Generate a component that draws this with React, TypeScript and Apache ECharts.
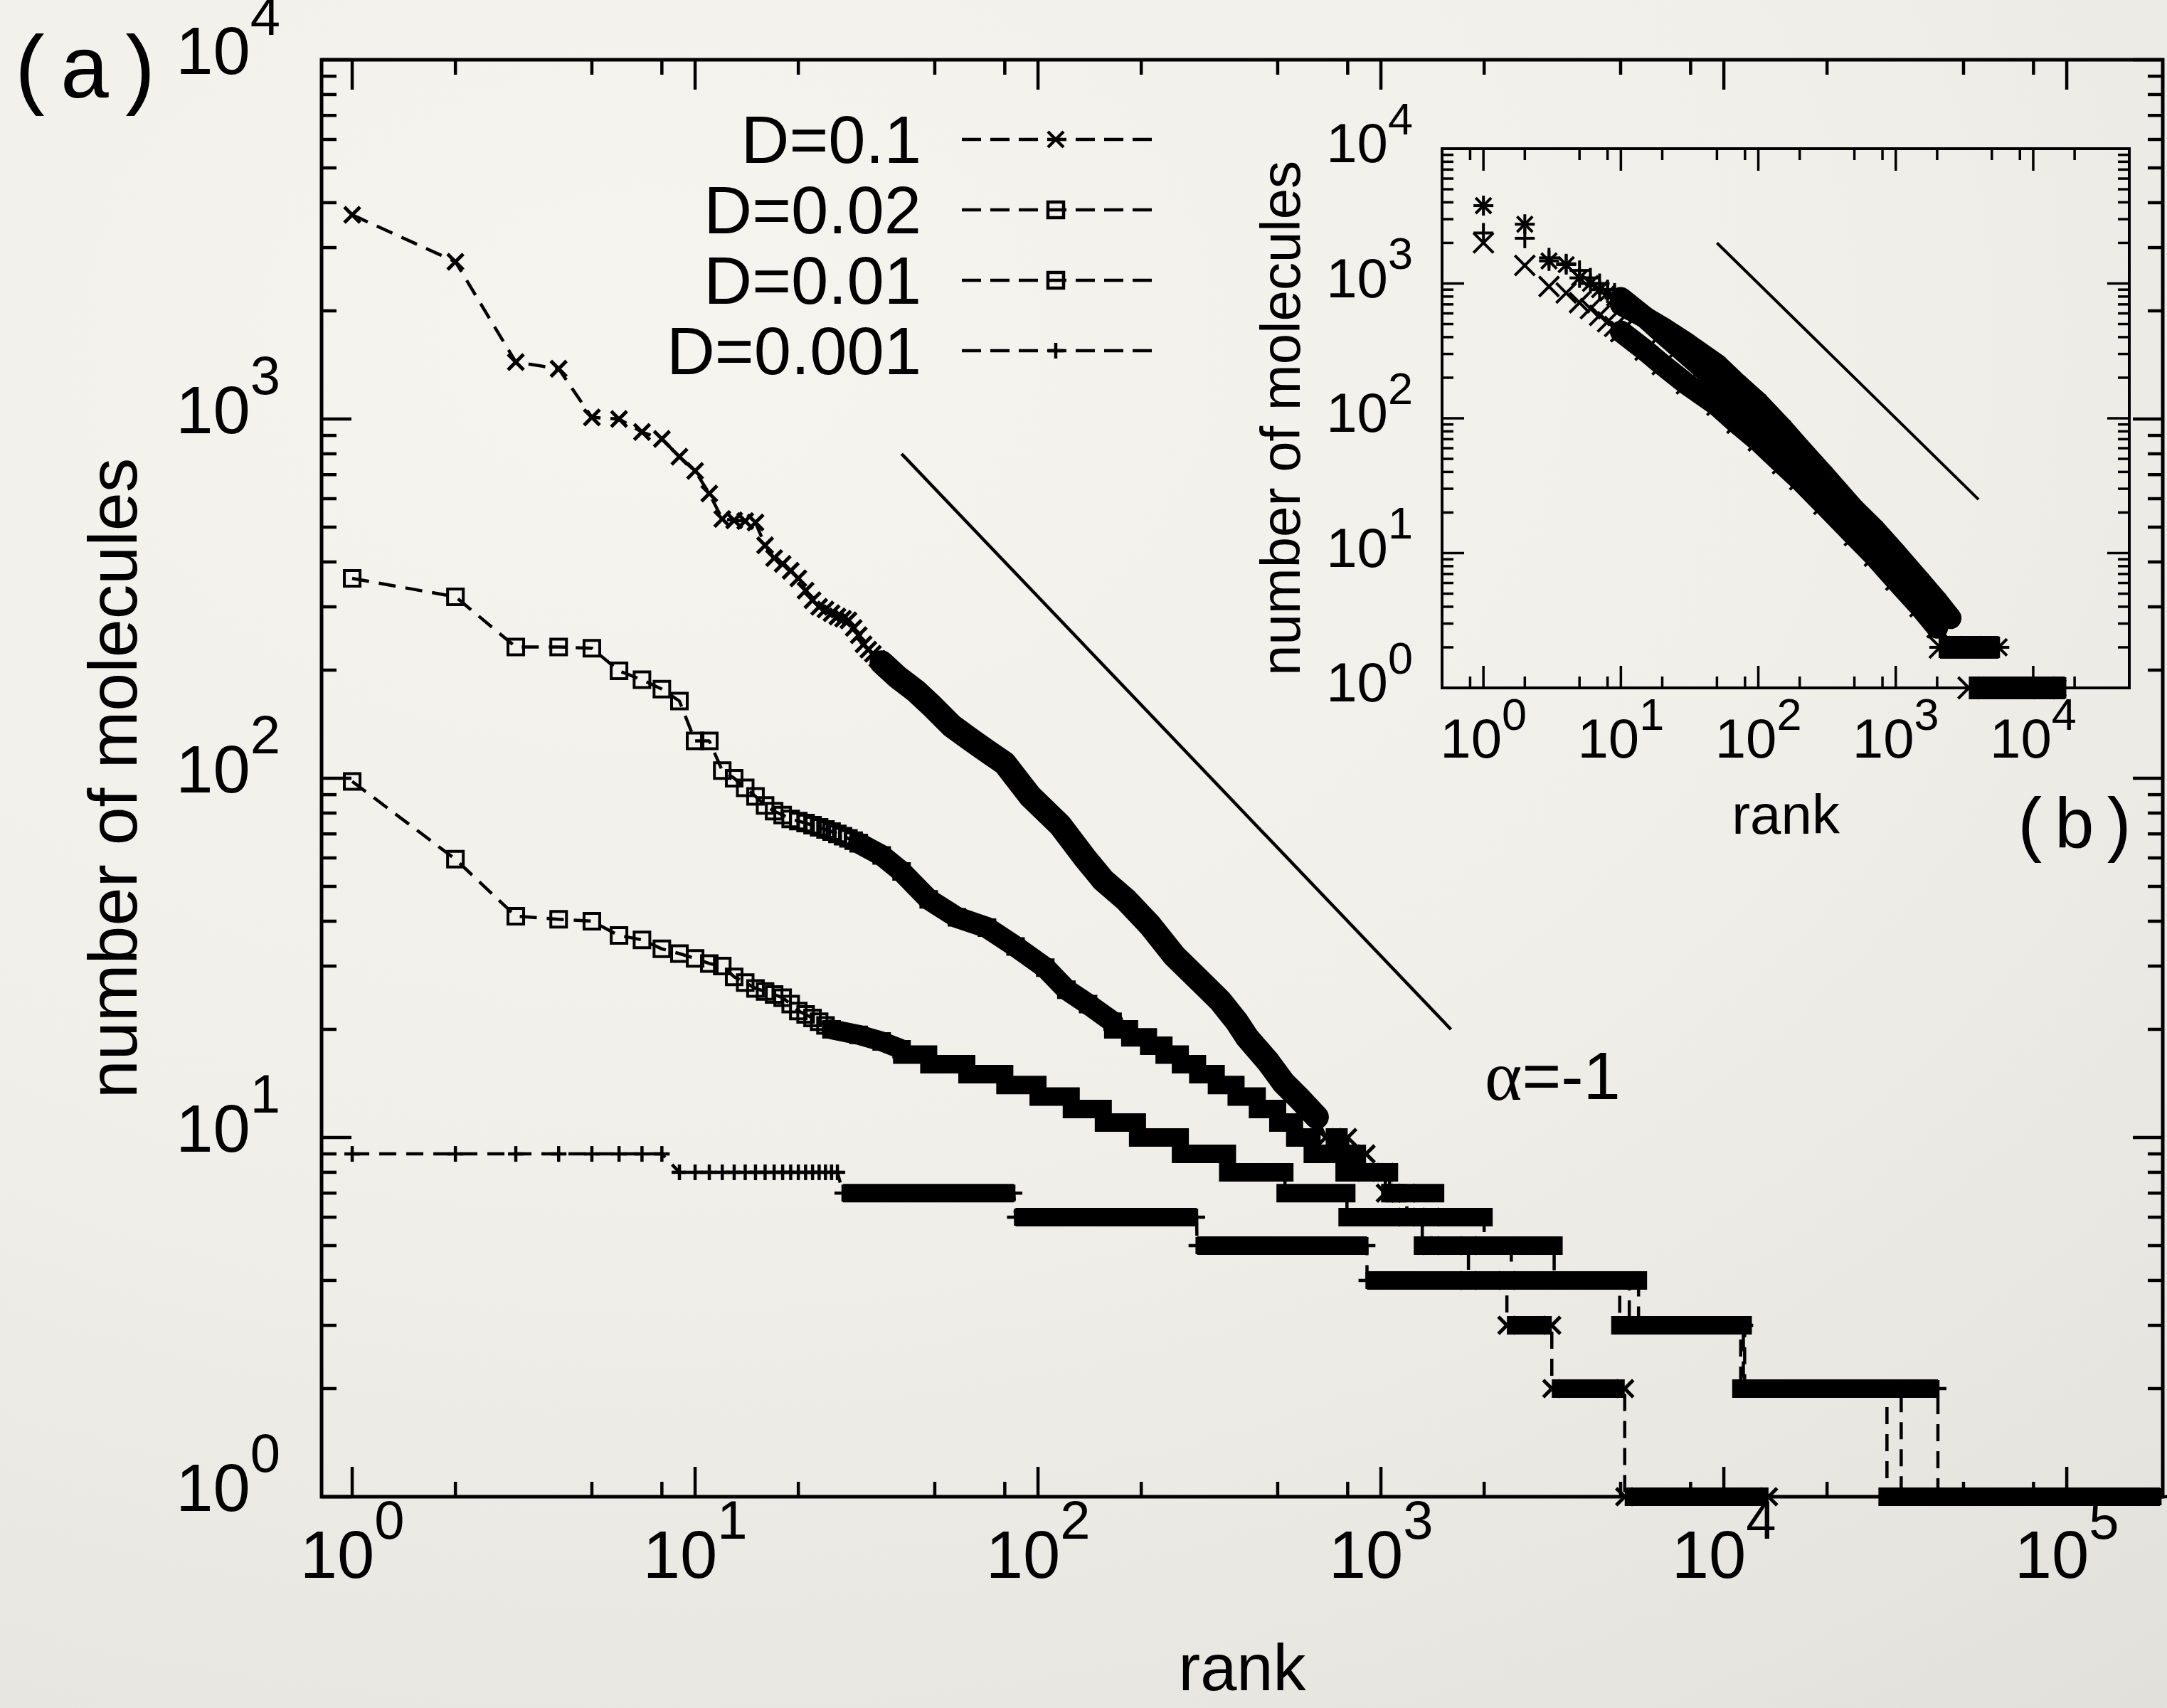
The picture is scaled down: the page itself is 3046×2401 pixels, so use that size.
import React, { useEffect, useRef } from "react";
import * as echarts from "echarts";

const SANS = "'Liberation Sans', Arial, Helvetica, sans-serif";
const MONO = "'Liberation Mono', 'Courier New', monospace";
const SERIF = "'Liberation Serif', 'Times New Roman', serif";

// ---------- axes ----------
const MAIN_X_RANGE = [0.8141, 190500];
const MAIN_Y_RANGE = [1, 10000];
const INSET_X_RANGE = [0.5, 50000];
const INSET_Y_RANGE = [1, 10000];

const mainXMajor = [1, 10, 100, 1000, 10000, 100000];
const mainXMinor = [2, 5, 8, 20, 50, 80, 200, 500, 800, 2000, 5000, 8000, 20000, 50000, 80000];
const mainYMajor = [1, 10, 100, 1000, 10000];
const mainYMinor = [2, 3, 4, 5, 6, 7, 8, 9, 20, 30, 40, 50, 60, 70, 80, 90, 200, 300, 400, 500, 600, 700, 800, 900, 2000, 3000, 4000, 5000, 6000, 7000, 8000, 9000];
const mainXExp = ["0", "1", "2", "3", "4", "5"];
const mainYExp = ["0", "1", "2", "3", "4"];

const insetXMajor = [1, 10, 100, 1000, 10000];
const insetXMinor = [0.8, 2, 5, 8, 20, 50, 80, 200, 500, 800, 2000, 5000, 8000, 20000];
const insetYMajor = [1, 10, 100, 1000, 10000];
const insetYMinor = [2, 3, 4, 5, 6, 7, 8, 9, 20, 30, 40, 50, 60, 70, 80, 90, 200, 300, 400, 500, 600, 700, 800, 900, 2000, 3000, 4000, 5000, 6000, 7000, 8000, 9000];
const insetXExp = ["0", "1", "2", "3", "4"];
const insetYExp = ["0", "1", "2", "3", "4"];

// ---------- main data : [rank, molecules] ; steps : [molecules, fromRank, toRank] ----------
const legendNames = ["D=0.1", "D=0.02", "D=0.01", "D=0.001"];

const d01Head = [[1, 3700], [2, 2740], [3, 1440], [4, 1380], [5, 1010], [6, 1000], [7, 920], [8, 880], [9, 785], [10, 717], [11, 620], [12, 527], [13, 522], [14, 520], [15, 515], [16, 445], [17, 410], [18, 395], [19, 378], [20, 360], [21, 333], [22, 313], [23, 300], [24, 295], [25, 288], [26, 282], [27, 278], [28, 275], [29, 262], [30, 250], [31, 236], [32, 228], [33, 222], [34, 215], [35, 210]];
const d01Band = [[35, 210], [39, 191], [44, 175], [49, 159], [56, 140], [63, 129], [71, 119], [80, 110], [95, 89], [116, 74], [137, 60], [155, 52], [180, 46], [212, 39], [250, 32], [300, 27], [340, 24], [380, 21], [407, 19], [470, 16.2], [520, 14.2], [580, 12.8], [650, 11.4]];
const d01Steps = [[10, 690, 800], [9, 800, 905], [8, 905, 1030], [7, 1030, 1190], [6, 1190, 1400], [5, 1400, 1800], [4, 1800, 2330], [3, 2330, 3150], [2, 3150, 5140], [1, 5140, 13500]];

const d002Head = [[1, 360], [2, 320], [3, 232], [4, 232], [5, 230], [6, 199], [7, 188], [8, 177], [9, 164], [10, 127], [11, 127], [12, 105], [13, 100], [14, 94], [15, 89], [16, 84], [17, 81], [18, 79], [19, 77], [20, 76], [21, 75], [22, 74], [23, 73], [24, 72], [25, 71], [26, 70], [27, 69], [28, 68], [29, 67], [30, 66]];
const d002Band = [[30, 66], [35, 61], [40, 55], [48, 46], [58, 41], [71, 38.4], [86, 34], [105, 29.7], [121, 25.8], [140, 23.5], [165, 21]];
const d002Steps = [[20, 165, 185], [19, 185, 210], [18, 210, 233], [17, 233, 260], [16, 260, 292], [15, 292, 331], [14, 331, 378], [13, 378, 436], [12, 436, 500], [11, 500, 560], [10, 560, 630], [9, 630, 780], [8, 780, 1060], [7, 1060, 1445], [6, 1445, 2000], [5, 2000, 3200], [4, 3200, 4970], [3, 4970, 11400], [2, 11400, 29900], [1, 29900, 140000]];

const d001Head = [[1, 98], [2, 59.5], [3, 41.3], [4, 40.5], [5, 40], [6, 36.5], [7, 35.5], [8, 33.5], [9, 32.5], [10, 31.5], [11, 30.5], [12, 30], [13, 28], [14, 27], [15, 26], [16, 25.5], [17, 25], [18, 24.5], [19, 23.5], [20, 22.5], [21, 22], [22, 21.5], [23, 21], [24, 20.5], [25, 20]];
const d001Band = [[25, 20], [30, 19.3], [35, 18.5], [40, 17.6]];
const d001Steps = [[17, 40, 48], [16, 48, 62], [15, 62, 80], [14, 80, 100], [13, 100, 125], [12, 125, 155], [11, 155, 195], [10, 195, 260], [9, 260, 357], [8, 357, 525], [7, 525, 796], [6, 796, 1320], [5, 1320, 2400], [4, 2400, 5640], [3, 5640, 11200], [2, 11200, 32900], [1, 32900, 140000]];

const d0001Head = [[1, 9], [2, 9], [3, 9], [4, 9], [5, 9], [6, 9], [7, 9], [8, 9], [9, 8], [10, 8], [11, 8], [12, 8], [13, 8], [14, 8], [15, 8], [16, 8], [17, 8], [18, 8], [19, 8], [20, 8], [21, 8], [22, 8], [23, 8], [24, 8], [25, 8], [26, 8]];
const d0001Band: number[][] = [];
const d0001Steps = [[7, 27, 85], [6, 86, 290], [5, 291, 910], [4, 911, 5300], [3, 5300, 11500], [2, 11500, 42100], [1, 42100, 187000]];

const alphaMain = [[40, 800], [1600, 20]];

// ---------- inset data ----------
const insetAHead = [[1, 3780], [2, 2750], [3, 1470], [4, 1380], [5, 1100], [6, 1000], [7, 900], [8, 850], [9, 780], [10, 700]];
const insetABand = [[10, 700], [15, 560], [20, 470], [30, 360], [50, 250], [70, 180], [100, 130], [150, 84], [200, 60], [300, 38], [500, 21], [700, 15], [1000, 10], [1500, 6.2], [2000, 4.4], [2500, 3.3]];
const insetASteps = [[2, 2600, 5600], [1, 5600, 15000]];
const insetBHead = [[1, 2370], [2, 2165], [3, 1550], [4, 1400], [5, 1250], [6, 1100], [7, 1000], [8, 900], [9, 850], [10, 780]];
const insetBBand = [[10, 780], [15, 560], [20, 430], [30, 300], [50, 190], [70, 140], [100, 100], [150, 66], [200, 48], [300, 31], [500, 17], [700, 12], [1000, 8], [1500, 5], [2000, 3.4]];
const insetBSteps = [[2, 2100, 4000], [1, 4000, 17000]];
const insetCHead = [[1, 2000], [2, 1360], [3, 950], [4, 850], [5, 720], [6, 650], [7, 580], [8, 520], [9, 480], [10, 440]];
const insetCBand = [[10, 440], [15, 320], [20, 250], [30, 180], [50, 125], [70, 92], [100, 68], [150, 46], [200, 35], [300, 23], [500, 13.5], [700, 9.5], [1000, 6.3], [1500, 4], [2000, 2.8]];
const insetCSteps = [[2, 2100, 3500], [1, 3400, 12000]];
const alphaInset = [[50, 2000], [4000, 25]];

// ---------- drawing helpers ----------
function markerEls(kind: string, x: number, y: number, h: number, lw: number): any[] {
  const st = { stroke: "#000", lineWidth: lw, fill: "none" };
  const ln = (x1: number, y1: number, x2: number, y2: number) => ({ type: "line", shape: { x1, y1, x2, y2 }, style: st });
  if (kind === "x") return [ln(x - h, y - h, x + h, y + h), ln(x - h, y + h, x + h, y - h)];
  if (kind === "plus") return [ln(x - h, y, x + h, y), ln(x, y - h, x, y + h)];
  if (kind === "square") return [{ type: "rect", shape: { x: x - h, y: y - h, width: 2 * h, height: 2 * h }, style: st }];
  const k = h * 0.78;
  return [ln(x - h, y, x + h, y), ln(x, y - h, x, y + h), ln(x - k, y - k, x + k, y + k), ln(x - k, y + k, x + k, y - k)];
}

function markerRenderer(kind: string, h: number, lw: number) {
  return (params: any, api: any) => {
    const p = api.coord([api.value(0), api.value(1)]);
    return { type: "group", children: markerEls(kind, p[0], p[1], h, lw) };
  };
}

function stepRenderer(kind: string, h: number, lw: number) {
  return (params: any, api: any) => {
    const a = api.coord([api.value(0), api.value(1)]);
    const b = api.coord([api.value(2), api.value(1)]);
    const ext = kind === "square" ? h : 0;
    const children: any[] = [
      { type: "rect", shape: { x: a[0] - ext, y: a[1] - h - 1, width: b[0] - a[0] + 2 * ext, height: 2 * h + 2 }, style: { fill: "#000" } },
    ];
    if (kind !== "square") {
      children.push(...markerEls(kind, a[0], a[1], h, lw), ...markerEls(kind, b[0], b[1], h, lw));
    }
    return { type: "group", children };
  };
}

function tickData(xMaj: number[], xMin: number[], yMaj: number[], yMin: number[], xr: number[], yr: number[], majLen: number, minLen: number) {
  const d: number[][] = [];
  xMaj.forEach((v) => { d.push([v, yr[0], 0, majLen]); d.push([v, yr[1], 1, majLen]); });
  xMin.forEach((v) => { if (v > xr[0] && v < xr[1]) { d.push([v, yr[0], 0, minLen]); d.push([v, yr[1], 1, minLen]); } });
  yMaj.forEach((v) => { d.push([xr[0], v, 2, majLen]); d.push([xr[1], v, 3, majLen]); });
  yMin.forEach((v) => { d.push([xr[0], v, 2, minLen]); d.push([xr[1], v, 3, minLen]); });
  return d;
}

function tickRenderer(w: number) {
  return (params: any, api: any) => {
    const p = api.coord([api.value(0), api.value(1)]);
    const dir = api.value(2);
    const len = api.value(3);
    let x2 = p[0];
    let y2 = p[1];
    if (dir === 0) y2 -= len;
    else if (dir === 1) y2 += len;
    else if (dir === 2) x2 += len;
    else x2 -= len;
    return { type: "line", shape: { x1: p[0], y1: p[1], x2, y2 }, style: { stroke: "#000", lineWidth: w } };
  };
}

function labelRenderer(texts: string[], cfg: any) {
  return (params: any, api: any) => {
    const p = api.coord([api.value(0), api.value(1)]);
    const side = api.value(2);
    const exp = texts[params.dataIndex % texts.length];
    const rich = {
      b: { fontSize: cfg.base, fontFamily: SANS, lineHeight: cfg.base, verticalAlign: "bottom", fill: "#000" },
      s: { fontSize: cfg.sup, fontFamily: SANS, lineHeight: cfg.supLH, padding: [0, 0, cfg.pad, 0], verticalAlign: "bottom", fill: "#000" },
    };
    const bottom = side === 0;
    return {
      type: "text",
      x: bottom ? p[0] : p[0] - cfg.leftGap,
      y: bottom ? p[1] + cfg.bottomTop : p[1] + cfg.leftTop,
      style: {
        text: "{b|10}{s|" + exp + "}",
        rich,
        fill: "#000",
        align: bottom ? "center" : "right",
        textAlign: bottom ? "center" : "right",
        verticalAlign: "top",
        textVerticalAlign: "top",
      },
    };
  };
}

function buildOption() {
  const series: any[] = [];
  const M = { xAxisIndex: 0, yAxisIndex: 0 };
  const I = { xAxisIndex: 1, yAxisIndex: 1 };

  // ticks
  series.push({ type: "custom", ...M, clip: false, silent: true, z: 20, renderItem: tickRenderer(4.5),
    data: tickData(mainXMajor, mainXMinor, mainYMajor, mainYMinor, MAIN_X_RANGE, MAIN_Y_RANGE, 42, 21) });
  series.push({ type: "custom", ...I, clip: false, silent: true, z: 20, renderItem: tickRenderer(3.5),
    data: tickData(insetXMajor, insetXMinor, insetYMajor, insetYMinor, INSET_X_RANGE, INSET_Y_RANGE, 31, 16) });

  // tick labels
  const mainCfg = { base: 94, sup: 76, supLH: 64, pad: 58, bottomTop: 34, leftGap: 58, leftTop: -60 };
  series.push({ type: "custom", ...M, clip: false, silent: true, z: 20, renderItem: labelRenderer(mainXExp, mainCfg),
    data: mainXMajor.map((v) => [v, MAIN_Y_RANGE[0], 0]) });
  series.push({ type: "custom", ...M, clip: false, silent: true, z: 20, renderItem: labelRenderer(mainYExp, mainCfg),
    data: mainYMajor.map((v) => [MAIN_X_RANGE[0], v, 1]) });
  const insetCfg = { base: 78, sup: 63, supLH: 63, pad: 42, bottomTop: 32, leftGap: 41, leftTop: -47 };
  series.push({ type: "custom", ...I, clip: false, silent: true, z: 20, renderItem: labelRenderer(insetXExp, insetCfg),
    data: insetXMajor.map((v) => [v, INSET_Y_RANGE[0], 0]) });
  series.push({ type: "custom", ...I, clip: false, silent: true, z: 20, renderItem: labelRenderer(insetYExp, insetCfg),
    data: insetYMajor.map((v) => [INSET_X_RANGE[0], v, 1]) });

  // main data series
  const mainSets = [
    { name: legendNames[0], head: d01Head, band: d01Band, steps: d01Steps, kind: "x", lw: 5, bw: 34 },
    { name: legendNames[1], head: d002Head, band: d002Band, steps: d002Steps, kind: "square", lw: 4, bw: 30 },
    { name: legendNames[2], head: d001Head, band: d001Band, steps: d001Steps, kind: "square", lw: 4, bw: 28 },
    { name: legendNames[3], head: d0001Head, band: d0001Band, steps: d0001Steps, kind: "plus", lw: 4.5, bw: 26 },
  ];
  mainSets.forEach((s) => {
    const path: number[][] = [];
    s.head.forEach((p) => path.push(p));
    s.band.forEach((p) => path.push(p));
    s.steps.forEach((st) => { path.push([st[1], st[0]]); path.push([st[2], st[0]]); });
    series.push({ type: "line", name: s.name, ...M, data: path, symbol: "none", z: 2, silent: true,
      lineStyle: { color: "#000", width: 4.5, type: [24, 14] } });
    if (s.band.length) {
      series.push({ type: "line", name: s.name + " band", ...M, data: s.band, symbol: "none", z: 3, silent: true,
        lineStyle: { color: "#000", width: s.bw, cap: "round", join: "round" } });
    }
    series.push({ type: "custom", name: s.name + " plateaus", ...M, z: 3, silent: true, renderItem: stepRenderer(s.kind, 12, s.lw),
      data: s.steps.map((st) => [st[1], st[0], st[2]]) });
    series.push({ type: "custom", name: s.name + " points", ...M, z: 4, silent: true, renderItem: markerRenderer(s.kind, 11, s.lw),
      data: s.head.concat(s.band) });
  });
  series.push({ type: "line", name: "alpha=-1", ...M, data: alphaMain, symbol: "none", z: 3, silent: true,
    lineStyle: { color: "#000", width: 4.5 } });

  // inset data series
  const insetSets = [
    { name: "inset *", head: insetAHead, band: insetABand, steps: insetASteps, kind: "star" },
    { name: "inset +", head: insetBHead, band: insetBBand, steps: insetBSteps, kind: "plus" },
    { name: "inset x", head: insetCHead, band: insetCBand, steps: insetCSteps, kind: "x" },
  ];
  insetSets.forEach((s) => {
    series.push({ type: "line", name: s.name + " band", ...I, data: s.band, symbol: "none", z: 3, silent: true,
      lineStyle: { color: "#000", width: 31, cap: "round", join: "round" } });
    series.push({ type: "custom", name: s.name + " plateaus", ...I, z: 3, silent: true, renderItem: stepRenderer(s.kind, 15, 4),
      data: s.steps.map((st) => [st[1], st[0], st[2]]) });
    series.push({ type: "custom", name: s.name + " points", ...I, z: 4, silent: true, renderItem: markerRenderer(s.kind, 14, 4),
      data: s.head.concat(s.band) });
  });
  series.push({ type: "line", name: "inset alpha", ...I, data: alphaInset, symbol: "none", z: 3, silent: true,
    lineStyle: { color: "#000", width: 4 } });

  // graphic: titles, legend, panel labels
  const legendY = [196, 295, 394, 493];
  const legendKinds = ["x", "square", "square", "plus"];
  const graphic: any[] = [];
  const txt = (x: number, y: number, text: string, size: number, family: string, align: string, extra: any = {}, lh?: number) => ({
    type: "text", x, y, ...extra,
    style: { text, fontSize: size, fontFamily: family, fill: "#000", align, textAlign: align, verticalAlign: "middle", textVerticalAlign: "middle",
      ...(lh ? { lineHeight: lh } : {}) },
  });
  graphic.push(txt(8, 104, "(a)", 124, MONO, "left"));
  graphic.push(txt(158, 1094, "number of molecules", 97, SANS, "center", { rotation: Math.PI / 2 }));
  graphic.push(txt(1746, 2344, "rank", 92, SANS, "center", {}, 80));
  legendNames.forEach((n, i) => {
    graphic.push(txt(1295, legendY[i], n, 94, SANS, "right"));
    graphic.push({ type: "line", shape: { x1: 1352, y1: legendY[i], x2: 1620, y2: legendY[i] },
      style: { stroke: "#000", lineWidth: 4.5, lineDash: [27, 13] } });
    graphic.push({ type: "group", children: markerEls(legendKinds[i], 1484, legendY[i], 11, 4.5) });
  });
  graphic.push({
    type: "text", x: 2087, y: 1512,
    style: {
      text: "{a|\u03b1}{t|=-1}", fill: "#000", align: "left", textAlign: "left", verticalAlign: "middle", textVerticalAlign: "middle",
      rich: { a: { fontSize: 100, fontFamily: SERIF, fill: "#000" }, t: { fontSize: 94, fontFamily: SANS, fill: "#000" } },
    },
  });
  graphic.push(txt(1800, 588, "number of molecules", 78, SANS, "center", { rotation: Math.PI / 2 }));
  graphic.push(txt(2510, 1145, "rank", 78, SANS, "center"));
  graphic.push(txt(2826, 1165, "(b)", 100, MONO, "left"));

  const axis = (gi: number, r: number[]) => ({
    type: "log", logBase: 10, gridIndex: gi, min: r[0], max: r[1],
    axisLine: { show: false }, axisTick: { show: false }, axisLabel: { show: false },
    splitLine: { show: false }, minorTick: { show: false }, minorSplitLine: { show: false },
  });

  return {
    animation: false,
    backgroundColor: "transparent",
    grid: [
      { left: 452, top: 84, width: 2588, height: 2020, show: true, borderColor: "#000", borderWidth: 5, backgroundColor: "transparent" },
      { left: 2027, top: 209, width: 966, height: 758, show: true, borderColor: "#000", borderWidth: 4, backgroundColor: "transparent" },
    ],
    xAxis: [axis(0, MAIN_X_RANGE), axis(1, INSET_X_RANGE)],
    yAxis: [axis(0, MAIN_Y_RANGE), axis(1, INSET_Y_RANGE)],
    series,
    graphic,
  };
}

export default function App() {
  const ref = useRef<HTMLDivElement>(null);
  useEffect(() => {
    if (!ref.current) return;
    const chart = echarts.init(ref.current, null, { renderer: "svg" });
    chart.setOption(buildOption() as any);
    return () => chart.dispose();
  }, []);
  return (
    <div
      ref={ref}
      style={{
        position: "fixed",
        left: 0,
        top: 0,
        width: 3046,
        height: 2401,
        background: "radial-gradient(ellipse 120% 110% at 30% 20%, #f6f4ee 0%, #f1efe9 45%, #e7e5e0 80%, #dfddd8 100%)",
      }}
    />
  );
}
